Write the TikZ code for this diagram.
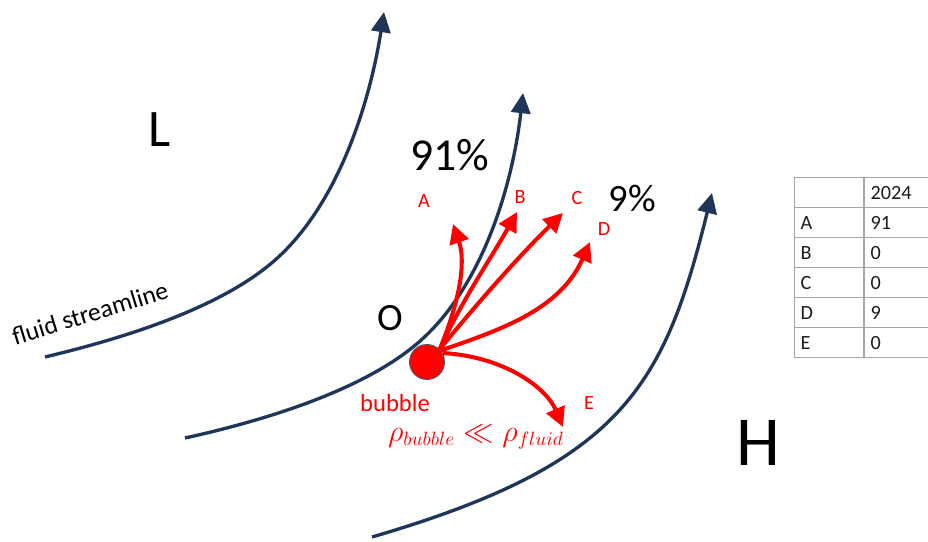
\documentclass[tikz,border=0pt]{standalone}
\usepackage{fontspec}
\setmainfont{Carlito}
\usetikzlibrary{arrows.meta,positioning}
\definecolor{slNavy}{HTML}{1F3559}
\definecolor{bbRed}{HTML}{FF0000}
\definecolor{bbEdge}{HTML}{4A5570}
\definecolor{tbGrid}{HTML}{A6A6A6}
\definecolor{tbText}{HTML}{1A1A1A}

\begin{document}
\begin{tikzpicture}[x=0.02cm,y=-0.02cm,
      stream/.style={slNavy,line width=1.9pt,
                     -{Triangle[length=11.5pt,width=11pt]}},
      flow/.style={bbRed,line width=2.3pt,
                   -{Triangle[length=11pt,width=11pt]}},
      tag/.style={bbRed,font=\fontsize{11.5}{12}\selectfont},
      hand/.style={font=\fontsize{#1}{#1}\selectfont},
      cell/.style={draw=tbGrid,line width=0.6pt,anchor=north west,
                   minimum height=0.6cm,inner xsep=3.5pt,align=left,
                   text=tbText,font=\fontsize{11.5}{12}\selectfont}]

    \clip (0,0) rectangle (928,541);

    % streamlines
    \draw[stream] (45,357) .. controls (99,344) and (206,316) .. (268,266)
                  .. controls (338,210) and (370,101) .. (384,12);
    \draw[stream] (185,438) .. controls (244,425) and (351,397) .. (413,347)
                  .. controls (483,291) and (513,182) .. (523,93);
    \draw[stream] (372,537) .. controls (622,464) and (664,387) .. (712,193);

    \node[rotate=17,font=\fontsize{14.5}{15}\selectfont] (sl) at (90,313) {fluid streamline};

    % bubble and its paths
    \node[circle,fill=bbRed,draw=bbEdge,line width=0.5pt,minimum size=0.7cm,inner sep=0pt] (bubble) at (427,362) {};
    \coordinate (tipA) at (453,224);
    \coordinate (tipB) at (517,212);
    \coordinate (tipC) at (563,213);
    \coordinate (tipD) at (590,242);
    \coordinate (tipE) at (563,427);
    \draw[flow] (bubble.45) .. controls (460,300) and (466,262) .. (tipA);
    \draw[flow] (bubble.45) .. controls (462,300) and (490,260) .. (tipB);
    \draw[flow] (bubble.45) .. controls (480,300) and (520,255) .. (tipC);
    \draw[flow] (bubble.40) .. controls (500,330) and (560,310) .. (tipD);
    \draw[flow] (bubble.30) .. controls (500,356) and (545,385) .. (tipE);

    \node[tag] (lA) at (424,201) {A};
    \node[tag] (lB) at (520,197) {B};
    \node[tag] (lC) at (577,198) {C};
    \node[tag] (lD) at (604,229) {D};
    \node[tag] (lE) at (589,403) {E};

    \node[bbRed,font=\fontsize{14}{16}\selectfont] (bl) at (395,403) {bubble};
    \node[bbRed,font=\fontsize{16}{18}\selectfont] (rho) at (476,437) {$\rho_{bubble}\ll\rho_{fluid}$};

    % hand notes
    \node[hand=30] (hL) at (160,130) {L};
    \node[hand=26] (h91) at (450,155) {91\%};
    \node[hand=22] (h9) at (632,198) {9\%};
    \node[hand=22] (hO) at (390,318) {O};
    \node[hand=40] (hH) at (758,443) {H};

    % table
    \foreach \k/\v [count=\r from 0] in {{}/2024,A/91,B/0,C/0,D/9,E/0} {
      \node[cell,text width={1.38cm-7pt}] (k\r) at (794,{177+30*\r}) {\k};
      \node[cell,text width={1.8cm-7pt},right=0pt of k\r.north east,anchor=north west] (v\r) {\v};
    }
\end{tikzpicture}
\end{document}
